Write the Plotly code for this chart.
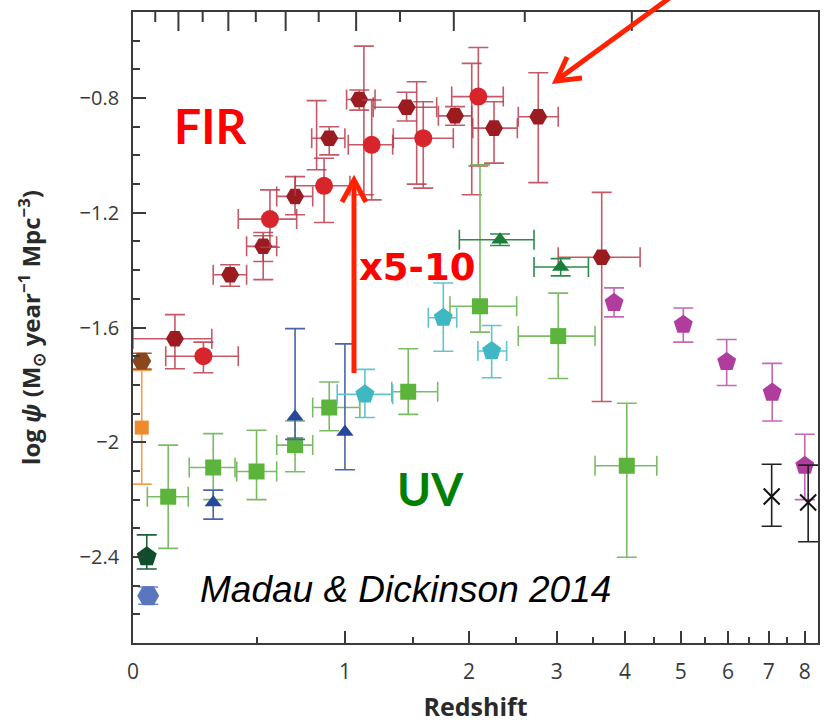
import numpy as np
import plotly.graph_objects as go

# ---------------- data: log star-formation-rate density vs redshift ----------------
# Far-IR, Gruppioni et al. 2013 (dark red hexagons)
gru_z = [0.147, 0.374, 0.531, 0.699, 0.900, 1.096, 1.447, 1.867, 2.257, 2.764, 3.632]
gru_zlo = [0.0, 0.30, 0.45, 0.60, 0.794, 1.011, 1.194, 1.715, 2.038, 2.526, 3.018]
gru_zhi = [0.294, 0.45, 0.60, 0.80, 1.0, 1.207, 1.70, 2.028, 2.515, 3.018, 4.252]
gru_psi = [-1.639, -1.416, -1.317, -1.143, -0.940, -0.805, -0.832, -0.862, -0.905, -0.865, -1.355]
gru_hi = [-1.555, -1.381, -1.269, -1.074, -0.900, -0.772, -0.78, -0.83, -0.813, -0.712, -1.129]
gru_lo = [-1.744, -1.456, -1.370, -1.207, -0.998, -0.842, -0.88, -0.895, -1.027, -1.095, -1.858]

# Far-IR, Magnelli et al. 2013 (red circles)
mag13_z = [0.259, 0.565, 0.868, 1.183, 1.584, 2.094]
mag13_zlo = [0.113, 0.411, 0.70, 1.022, 1.343, 1.836]
mag13_zhi = [0.411, 0.708, 1.033, 1.338, 1.851, 2.357]
mag13_psi = [-1.70, -1.222, -1.106, -0.963, -0.940, -0.795]
mag13_hi = [-1.651, -1.12, -1.01, -0.807, -0.813, -0.624]
mag13_lo = [-1.758, -1.32, -1.234, -1.155, -1.114, -1.037]

# Far-IR, Magnelli et al. 2011 (open hexagons)
mag11_z = [0.531, 0.823, 1.128, 1.529, 2.028]
mag11_psi = [-1.352, -0.958, -0.888, -0.90, -0.89]
mag11_hi = [-1.28, -0.809, -0.619, -0.743, -0.679]
mag11_lo = [-1.433, -1.05, -1.137, -1.10, -1.137]

# Local IR: Sanders et al. 2003 (brown hexagon), Takeuchi et al. 2005 (orange square)
san_z, san_psi, san_hi, san_lo = [0.029], [-1.717], [-1.69], [-1.745]
tak_z, tak_psi, tak_hi, tak_lo = [0.029], [-1.949], [-1.75], [-2.146]

# Local UV: Wyder et al. 2005 (blue-grey hexagon), Robotham & Driver 2011 (dark green pentagon)
wyd_z, wyd_psi, wyd_hi, wyd_lo = [0.051], [-2.535], [-2.505], [-2.565]
rob_z, rob_psi, rob_hi, rob_lo = [0.046], [-2.399], [-2.323], [-2.442]

# UV, Schiminovich et al. 2005 and others (green squares)
sq_z = [0.122, 0.30, 0.498, 0.699, 0.90, 1.46, 2.111, 3.018, 4.028]
sq_zlo = [0.048, 0.202, 0.404, 0.60, 0.80, 1.331, 1.82, 2.526, 3.532]
sq_zhi = [0.198, 0.396, 0.60, 0.80, 1.10, 1.709, 2.507, 3.532, 4.546]
sq_psi = [-2.19, -2.088, -2.102, -2.01, -1.879, -1.824, -1.526, -1.630, -2.082]
sq_hi = [-2.01, -1.97, -1.958, -1.926, -1.79, -1.674, -1.033, -1.48, -1.864]
sq_lo = [-2.37, -2.20, -2.20, -2.103, -1.96, -1.903, -1.616, -1.778, -2.401]

# UV, Dahlen et al. 2007 (blue triangles)
dah_z = [0.30, 0.699, 1.0]
dah_psi = [-2.21, -1.911, -1.964]
dah_hi = [-2.167, -1.604, -1.657]
dah_lo = [-2.268, -1.99, -2.096]

# UV, Reddy & Steidel 2009 (dark green triangles)
red_z = [2.321, 3.05]
red_zlo = [1.908, 2.712]
red_zhi = [2.712, 3.435]
red_psi = [-1.294, -1.389]
red_hi = [-1.274, -1.36]
red_lo = [-1.314, -1.42]

# UV, Cucciati et al. 2012 (cyan pentagons)
cuc_z = [1.135, 1.759, 2.232]
cuc_zlo = [0.95, 1.627, 2.09]
cuc_zhi = [1.338, 1.883, 2.394]
cuc_psi = [-1.833, -1.566, -1.682]
cuc_hi = [-1.746, -1.445, -1.593]
cuc_lo = [-1.914, -1.683, -1.775]

# UV, Bouwens et al. 2012 (magenta pentagons)
bou_z = [3.823, 5.049, 5.971, 7.09, 8.0]
bou_psi = [-1.514, -1.59, -1.72, -1.827, -2.082]
bou_hi = [-1.462, -1.532, -1.642, -1.725, -1.972]
bou_lo = [-1.563, -1.651, -1.802, -1.926, -2.2]

# UV, Schenker et al. 2013 (black crosses)
sch_z = [7.076, 8.10]
sch_psi = [-2.189, -2.21]
sch_hi = [-2.077, -2.08]
sch_lo = [-2.293, -2.347]

# axis ticks
z_ticks = [0, 1, 2, 3, 4, 5, 6, 7, 8]
z_minor = [0.5, 1.5, 2.5, 3.5, 4.5, 5.5, 6.5, 7.5]
y_ticks = [-2.4, -2.0, -1.6, -1.2, -0.8]
y_ticktext = ["\u22122.4", "\u22122", "\u22121.6", "\u22121.2", "\u22120.8"]
lookback_gyr = [1, 2, 3, 4, 5, 6, 7, 8, 9, 10, 11, 12]

# ---------------- helpers ----------------
def a(v):
    return np.asarray(v, dtype=float)


def series(z, psi, hi, lo, symbol, color, size, ecolor, zlo=None, zhi=None,
           line_w=0, fill=True):
    z, psi, hi, lo = a(z), a(psi), a(hi), a(lo)
    err_y = dict(type="data", symmetric=False, array=hi - psi, arrayminus=psi - lo,
                 color=ecolor, thickness=1.6, width=10)
    err_x = None
    if zlo is not None:
        err_x = dict(type="data", symmetric=False, array=a(zhi) - z, arrayminus=z - a(zlo),
                     color=ecolor, thickness=1.6, width=10)
    marker = dict(symbol=symbol, size=size, color=color if fill else "rgba(0,0,0,0)",
                  line=dict(width=line_w, color=color))
    return go.Scatter(x=1 + z, y=psi, mode="markers", marker=marker,
                      error_y=err_y, error_x=err_x, cliponaxis=False,
                      showlegend=False, hoverinfo="skip")


fig = go.Figure()

ir_err = "rgba(186,60,76,0.85)"
fig.add_trace(series(mag11_z, mag11_psi, mag11_hi, mag11_lo, "hexagon2-open", "#cc3a44", 16,
                     ir_err, line_w=2.2, fill=False))
fig.add_trace(series(gru_z, gru_psi, gru_hi, gru_lo, "hexagon2", "#9b1c20", 18, ir_err,
                     gru_zlo, gru_zhi))
fig.add_trace(series(mag13_z, mag13_psi, mag13_hi, mag13_lo, "circle", "#d8252c", 18, ir_err,
                     mag13_zlo, mag13_zhi))

fig.add_trace(series(tak_z, tak_psi, tak_hi, tak_lo, "square", "#ee8a2e", 14, "#f0a050"))
fig.add_trace(series(san_z, san_psi, san_hi, san_lo, "hexagon2", "#8a461c", 19, "#a0603a"))

fig.add_trace(series(sq_z, sq_psi, sq_hi, sq_lo, "square", "#5cb43c", 16, "rgba(110,180,85,0.9)",
                     sq_zlo, sq_zhi))
fig.add_trace(series(dah_z, dah_psi, dah_hi, dah_lo, "triangle-up", "#27489a", 15, "#4a64a8"))
fig.add_trace(series(red_z, red_psi, red_hi, red_lo, "triangle-up", "#1b7d3a", 15, "#2f8a4a",
                     red_zlo, red_zhi))
fig.add_trace(series(cuc_z, cuc_psi, cuc_hi, cuc_lo, "pentagon", "#3fb8c4", 20, "#62c3cc",
                     cuc_zlo, cuc_zhi))
fig.add_trace(series(bou_z, bou_psi, bou_hi, bou_lo, "pentagon", "#b03d9e", 20, "#c467b4"))
fig.add_trace(series(sch_z, sch_psi, sch_hi, sch_lo, "x-thin-open", "#111111", 16, "#222222",
                     line_w=2))
fig.add_trace(series(rob_z, rob_psi, rob_hi, rob_lo, "pentagon", "#0f4d2c", 21, "#1f5d3c"))
fig.add_trace(series(wyd_z, wyd_psi, wyd_hi, wyd_lo, "hexagon2", "#5a76bf", 22, "#7088c8"))

# ---------------- layout ----------------
axis_col = "#3a3a3a"
tick_font = dict(family="Open Sans, Noto Sans, sans-serif", size=21, color="#3a3a3a")
x_range = [0, 0.973]          # log10(1+z)
y_range = [-2.70, -0.50]
plot_h = 631.0
y_per_px = (y_range[1] - y_range[0]) / plot_h

# lookback-time ticks (1..12 Gyr) hanging from the top edge, flat LCDM with H0=70, Om=0.3
H0, Om, OL = 70.0, 0.3, 0.7
t_H = 977.8 / H0
k = 1.5 * np.sqrt(OL) / t_H
t0 = np.arcsinh(np.sqrt(OL / Om)) / k
tl = a(lookback_gyr)
one_plus_z_tl = (np.sinh((t0 - tl) * k) / np.sqrt(OL / Om)) ** (-2.0 / 3.0)
tick_x, tick_y = [], []
for opz, t in zip(one_plus_z_tl, lookback_gyr):
    tick_len = 19 if t % 2 == 0 else 10
    tick_x += [float(opz), float(opz), None]
    tick_y += [y_range[1], y_range[1] - tick_len * y_per_px, None]
fig.add_trace(go.Scatter(x=tick_x, y=tick_y, mode="lines", connectgaps=False,
                         line=dict(color=axis_col, width=2), cliponaxis=False,
                         showlegend=False, hoverinfo="skip"))

fig.update_layout(
    width=831, height=723,
    margin=dict(l=133, r=13, t=12, b=80, autoexpand=False),
    paper_bgcolor="white", plot_bgcolor="white",
    xaxis=dict(
        type="log", range=x_range, automargin=False,
        tickvals=[1 + v for v in z_ticks], ticktext=[str(v) for v in z_ticks],
        ticks="inside", ticklen=12, tickwidth=1.5, tickcolor=axis_col,
        minor=dict(tickvals=[1 + v for v in z_minor], ticks="inside", ticklen=6,
                   tickwidth=1.5, tickcolor=axis_col, showgrid=False),
        showline=True, linecolor=axis_col, linewidth=1.8, mirror=True,
        showgrid=False, zeroline=False, tickfont=tick_font, ticklabelstandoff=9,
        title=dict(text="<b>Redshift</b>", standoff=20,
                   font=dict(family="Open Sans, Noto Sans, sans-serif", size=25, color="#2a2a2a")),
    ),
    yaxis=dict(
        range=y_range, automargin=False,
        tickvals=y_ticks, ticktext=y_ticktext,
        ticks="inside", ticklen=13, tickwidth=1.5, tickcolor=axis_col,
        minor=dict(dtick=0.1, ticks="inside", ticklen=7, tickwidth=1.5,
                   tickcolor=axis_col, showgrid=False),
        showline=True, linecolor=axis_col, linewidth=1.8, mirror=True,
        showgrid=False, zeroline=False, tickfont=dict(tick_font, size=20),
        ticklabelstandoff=8,
        title=dict(text="<b>log <i>\u03c8</i> (M<sub>\u2299</sub> year<sup>\u22121</sup> "
                        "Mpc<sup>\u22123</sup>)</b>", standoff=32,
                   font=dict(family="Open Sans, Noto Sans, sans-serif", size=24, color="#2a2a2a")),
    ),
)


def px(xp):
    return (xp - 133) / 685.0


def py(yp):
    return 1 - (yp - 12) / 631.0


fig.add_annotation(x=px(210), y=py(125), xref="paper", yref="paper", text="<b>FIR</b>",
                   xanchor="center", yanchor="middle", showarrow=False,
                   font=dict(family="Lato, sans-serif", size=48, color="#ff0000"))
fig.add_annotation(x=px(417), y=py(267), xref="paper", yref="paper", text="<b>x5-10</b>",
                   xanchor="center", yanchor="middle", showarrow=False,
                   font=dict(family="DejaVu Sans, sans-serif", size=37, color="#ff0000"))
fig.add_annotation(x=px(430), y=py(488), xref="paper", yref="paper", text="<b>UV</b>",
                   xanchor="center", yanchor="middle", showarrow=False,
                   font=dict(family="Lato, sans-serif", size=46, color="#008000"))
fig.add_annotation(x=px(198), y=py(589), xref="paper", yref="paper", xanchor="left",
                   yanchor="middle", text="<i>Madau &amp; Dickinson 2014</i>", showarrow=False,
                   font=dict(family="Liberation Sans, Arial, sans-serif", size=37, color="#000000"))

arrow_col = "#ff2200"


def seg_path(points):
    return "M " + " L ".join(f"{px(x):.5f},{py(y):.5f}" for x, y in points)


# vertical "x5-10" arrow
fig.add_shape(type="path", xref="paper", yref="paper",
              path=seg_path([(354, 373), (354, 180)]), line=dict(color=arrow_col, width=5))
fig.add_shape(type="path", xref="paper", yref="paper",
              path=seg_path([(342, 202), (354, 180), (366, 202)]),
              line=dict(color=arrow_col, width=5))
# diagonal arrow pointing at the high-redshift FIR point
fig.add_shape(type="path", xref="paper", yref="paper",
              path=seg_path([(675, -6), (557, 80)]), line=dict(color=arrow_col, width=5))
fig.add_shape(type="path", xref="paper", yref="paper",
              path=seg_path([(567, 57), (556, 81), (582, 78)]),
              line=dict(color=arrow_col, width=5))

fig.write_html("out.html")
